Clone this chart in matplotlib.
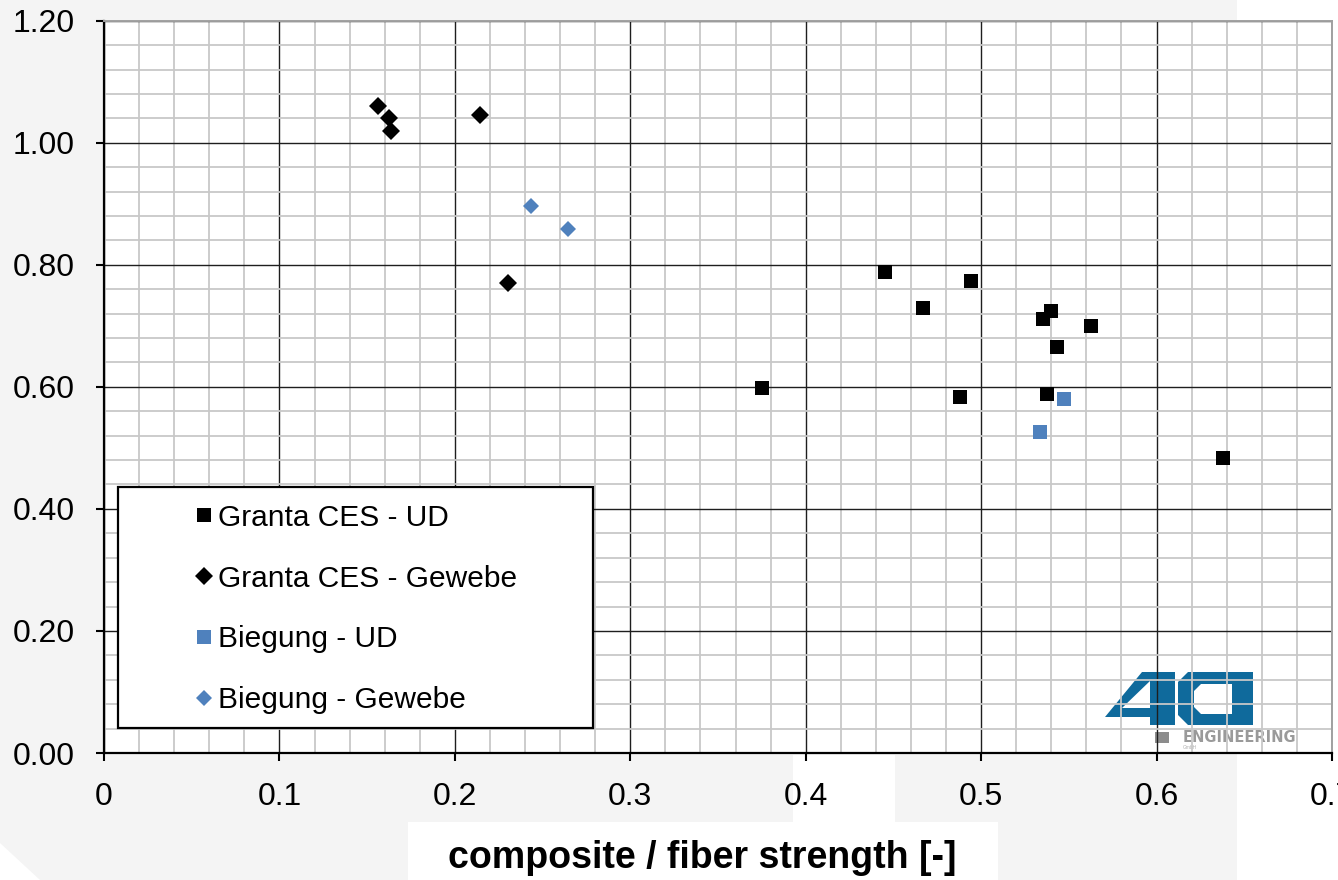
import matplotlib
matplotlib.use("Agg")
import matplotlib.pyplot as plt
from matplotlib.patches import Rectangle, Polygon
from matplotlib.ticker import MultipleLocator, FuncFormatter
from matplotlib import font_manager as fm

# ---------------- data ----------------
granta_ud_x = [0.375, 0.445, 0.467, 0.494, 0.488, 0.535, 0.540, 0.543, 0.5378, 0.5626, 0.638]
granta_ud_y = [0.598, 0.789, 0.730, 0.773, 0.583, 0.712, 0.725, 0.666, 0.588, 0.699, 0.483]

granta_gew_x = [0.1564, 0.1627, 0.1634, 0.2143, 0.2303]
granta_gew_y = [1.060, 1.040, 1.020, 1.045, 0.770]

biegung_ud_x = [0.5333, 0.5475]
biegung_ud_y = [0.5264, 0.580]

biegung_gew_x = [0.2432, 0.2647]
biegung_gew_y = [0.8957, 0.858]

series_labels = ["Granta CES - UD", "Granta CES - Gewebe", "Biegung - UD", "Biegung - Gewebe"]
x_label = "composite / fiber strength [-]"

BLUE = "#4F81BD"
W, H = 1338, 880

plt.rcParams['font.family'] = ['Liberation Sans', 'DejaVu Sans']

fig = plt.figure(figsize=(W / 100, H / 100), dpi=100, facecolor="#f4f4f4")

def fp(x, y):
    return (x / W, 1 - y / H)

# background white regions (behind the axes)
bg_kw = dict(transform=fig.transFigure, facecolor="white", edgecolor="none", zorder=-10)
fig.patches.append(Rectangle(fp(1237, 880), (W - 1237) / W, 1.0, **bg_kw))
fig.patches.append(Rectangle(fp(408, 880), (998 - 408) / W, (880 - 822) / H, **bg_kw))
fig.patches.append(Rectangle(fp(793, 822), (895 - 793) / W, (822 - 755) / H, **bg_kw))
fig.patches.append(Polygon([fp(0, 843), fp(0, 880), fp(40, 880)], closed=True, **bg_kw))

ax = fig.add_axes([104 / W, (880 - 753) / H, 1228 / W, 732.3 / H])
ax.set_facecolor("white")
ax.set_zorder(1)

ax.set_xlim(0, 0.7)
ax.set_ylim(0, 1.2)
ax.xaxis.set_major_locator(MultipleLocator(0.1))
ax.xaxis.set_minor_locator(MultipleLocator(0.02))
ax.yaxis.set_major_locator(MultipleLocator(0.2))
ax.yaxis.set_minor_locator(MultipleLocator(0.04))
ax.xaxis.set_major_formatter(FuncFormatter(lambda v, p: "%g" % round(v, 3)))
ax.yaxis.set_major_formatter(FuncFormatter(lambda v, p: "%.2f" % v))

ax.set_axisbelow(True)
ax.grid(which="minor", color="#c8c8c8", linewidth=1.3)
ax.grid(which="major", color="#1e1e1e", linewidth=1.0)

ax.tick_params(which="major", direction="out", length=6, width=1.5, color="black",
               labelsize=23, pad=15, labelcolor="black")
ax.tick_params(which="minor", length=0)

for s in ["left", "bottom"]:
    ax.spines[s].set_color("black")
    ax.spines[s].set_linewidth(1.6)
for s in ["top", "right"]:
    ax.spines[s].set_color("#a0a0a0")
    ax.spines[s].set_linewidth(1.4)

# logo (drawn beneath grid)
LOGO = "#0f6a9c"
four_outer = [fp(1105, 717), fp(1142, 672), fp(1175, 672), fp(1175, 725), fp(1150, 725), fp(1150, 717)]
four_hole = [fp(1122, 708), fp(1150, 681), fp(1150, 708)]
a_outer = [fp(1188, 672), fp(1253, 672), fp(1253, 725), fp(1188, 725), fp(1178, 715), fp(1178, 682)]
a_hole = [fp(1201, 684), fp(1232, 684), fp(1232, 714), fp(1201, 714), fp(1194, 707), fp(1194, 691)]
for pts, col in [(four_outer, LOGO), (four_hole, "white"), (a_outer, LOGO), (a_hole, "white")]:
    ax.add_patch(Polygon(pts, closed=True, transform=fig.transFigure, facecolor=col,
                         edgecolor="none", zorder=0.2, clip_on=False))
ax.add_patch(Rectangle(fp(1155, 743), 14 / W, 11 / H, transform=fig.transFigure,
                       facecolor="#8c8c8c", edgecolor="none", zorder=0.2, clip_on=False))
ax.text(1183 / W, 1 - 737.5 / H, "ENGINEERING", transform=fig.transFigure, fontsize=10.5,
        fontweight="bold", family="DejaVu Sans", color="#9a9a9a", va="center", ha="left", zorder=0.3)
ax.text(1183 / W, 1 - 747 / H, "GmbH", transform=fig.transFigure, fontsize=3.5,
        color="#b0b0b0", va="center", ha="left", zorder=0.3)

# data
h1, = ax.plot(granta_ud_x, granta_ud_y, linestyle="none", marker="s", markersize=9.6,
              color="black", markeredgewidth=0, label=series_labels[0], zorder=3)
h2, = ax.plot(granta_gew_x, granta_gew_y, linestyle="none", marker="D", markersize=9.5,
              color="black", markeredgewidth=0, label=series_labels[1], zorder=3)
h3, = ax.plot(biegung_ud_x, biegung_ud_y, linestyle="none", marker="s", markersize=9.4,
              color=BLUE, markeredgewidth=0, label=series_labels[2], zorder=3)
h4, = ax.plot(biegung_gew_x, biegung_gew_y, linestyle="none", marker="D", markersize=7.8,
              color=BLUE, markeredgewidth=0, label=series_labels[3], zorder=3)

# legend frame
x0a, y0a = (118 - 104) / 1228, (753 - 728) / 732.3
wa, ha_ = (593 - 118) / 1228, (728 - 487) / 732.3
ax.add_patch(Rectangle((x0a, y0a), wa, ha_, transform=ax.transAxes, facecolor="white",
                       edgecolor="black", linewidth=1.6, zorder=4.5, clip_on=False))
leg = ax.legend(handles=[h1, h2, h3, h4], loc="center left",
                bbox_to_anchor=(192.3 / W, 1 - 609 / H), bbox_transform=fig.transFigure,
                frameon=False, fontsize=21.5, borderpad=0, handlelength=0.8, handletextpad=0.06,
                labelspacing=1.1, numpoints=1, borderaxespad=0)
leg.set_zorder(5)

# x label
try:
    fm.findfont(fm.FontProperties(family="Liberation Sans Narrow", weight="bold"),
                fallback_to_default=False)
    xl_family, xl_size = ["Liberation Sans Narrow", "Liberation Sans"], 32
except Exception:
    xl_family, xl_size = ["Liberation Sans", "DejaVu Sans"], 27
fig.text(702.5 / W, 1 - 868 / H, x_label, family=xl_family, fontsize=xl_size,
         fontweight="bold", ha="center", va="baseline", color="black", zorder=2)

fig.savefig("out.png", dpi=100, facecolor=fig.get_facecolor())
